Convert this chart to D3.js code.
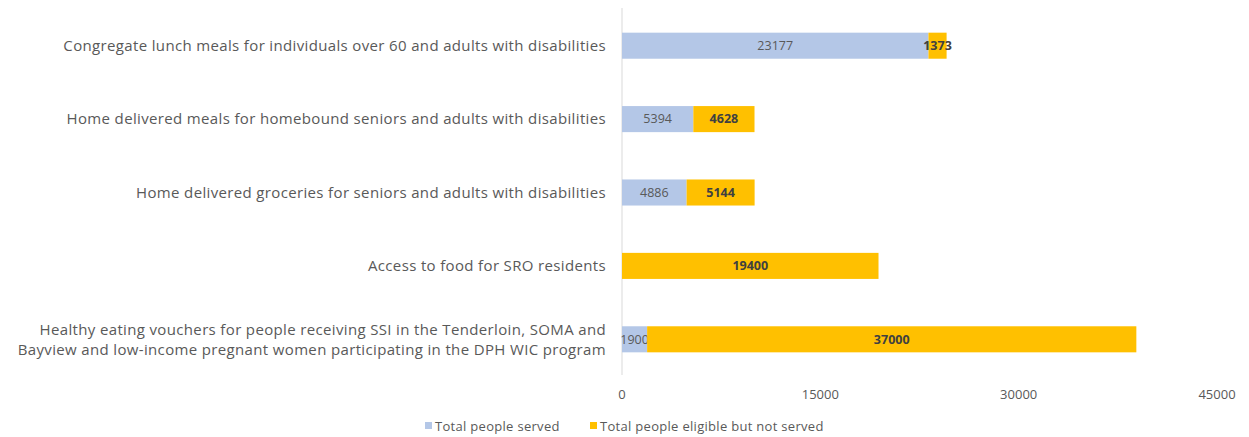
<!DOCTYPE html>
<html>
<head>
<meta charset="utf-8">
<script src="https://cdn.jsdelivr.net/npm/d3@7"></script>
<style>
  body { margin:0; background:#fff; }
  text { font-family:"Open Sans", "Liberation Sans", Arial, sans-serif; }
</style>
</head>
<body>
<div id="chart"></div>
<script>
var categories = [
  ["Congregate lunch meals for individuals over 60 and adults with disabilities"],
  ["Home delivered meals for homebound seniors and adults with disabilities"],
  ["Home delivered groceries for seniors and adults with disabilities"],
  ["Access to food for SRO residents"],
  ["Healthy eating vouchers for people receiving SSI in the Tenderloin, SOMA and",
   "Bayview and low-income pregnant women participating in the DPH WIC program"]
];
var served = [23177, 5394, 4886, 0, 1900];
var notServed = [1373, 4628, 5144, 19400, 37000];
var seriesNames = ["Total people served", "Total people eligible but not served"];
var tickValues = [0, 15000, 30000, 45000];

var width = 1249, height = 437;
var margin = {top: 8, right: 30, bottom: 62, left: 622};
var colors = ["#B4C7E7", "#FFC000"];

var svg = d3.select("#chart").append("svg")
  .attr("width", width).attr("height", height);

var x = d3.scaleLinear().domain([0, 45000]).range([margin.left, 1217]);
var y = d3.scaleBand().domain(d3.range(categories.length))
  .range([margin.top, height - margin.bottom]).paddingInner(0.645).paddingOuter(0.3225);

var rows = categories.map(function(c, i){
  return {i:i, label:c, vals:[served[i], notServed[i]]};
});

// axis line at zero
svg.append("line")
  .attr("x1", x(0)).attr("x2", x(0))
  .attr("y1", margin.top).attr("y2", height - margin.bottom)
  .attr("stroke", "#d9d9d9").attr("stroke-width", 1);

// bars
var g = svg.append("g").selectAll("g").data(rows).enter().append("g");

g.each(function(d){
  var sel = d3.select(this);
  var start = 0;
  d.vals.forEach(function(v, k){
    if (v > 0) {
      sel.append("rect")
        .attr("x", x(start)).attr("y", y(d.i) + 1)
        .attr("width", x(start + v) - x(start)).attr("height", y.bandwidth())
        .attr("fill", colors[k]);
      sel.append("text")
        .attr("x", (x(start) + x(start + v)) / 2)
        .attr("y", y(d.i) + 1 + y.bandwidth() / 2)
        .attr("dy", "0.35em")
        .attr("text-anchor", "middle")
        .attr("font-size", "12.5px")
        .attr("font-weight", k == 1 ? "bold" : "normal")
        .attr("fill", k == 1 ? "#404040" : "#595959")
        .text(v);
    }
    start += v;
  });
});

// category labels
g.append("text")
  .attr("text-anchor", "end")
  .attr("font-size", "15px")
  .attr("letter-spacing", "0.35px")
  .attr("fill", "#595959")
  .attr("transform", function(d){
    var lines = d.label.length;
    return "translate(" + (margin.left - 16) + "," + (y(d.i) + 1 + y.bandwidth() / 2 - (lines - 1) * 10) + ")";
  })
  .selectAll("tspan").data(function(d){ return d.label; }).enter().append("tspan")
  .attr("x", 0).attr("dy", function(d, j){ return j == 0 ? "0.35em" : "20px"; })
  .text(function(d){ return d; });

// x tick labels
svg.append("g").selectAll("text").data(tickValues).enter().append("text")
  .attr("x", function(d){ return x(d); })
  .attr("y", 399)
  .attr("text-anchor", "middle")
  .attr("font-size", "13px")
  .attr("fill", "#595959")
  .text(function(d){ return d; });

// legend
var legendX = [425, 590];
var legend = svg.append("g").selectAll("g").data(seriesNames).enter().append("g")
  .attr("transform", function(d, i){ return "translate(" + legendX[i] + ",426)"; });
legend.append("rect")
  .attr("x", 0).attr("y", -4).attr("width", 7).attr("height", 7)
  .attr("fill", function(d, i){ return colors[i]; });
legend.append("text")
  .attr("x", 10).attr("dy", "0.35em")
  .attr("font-size", "13px")
  .attr("letter-spacing", "0.3px")
  .attr("fill", "#595959")
  .text(function(d){ return d; });
</script>
</body>
</html>
